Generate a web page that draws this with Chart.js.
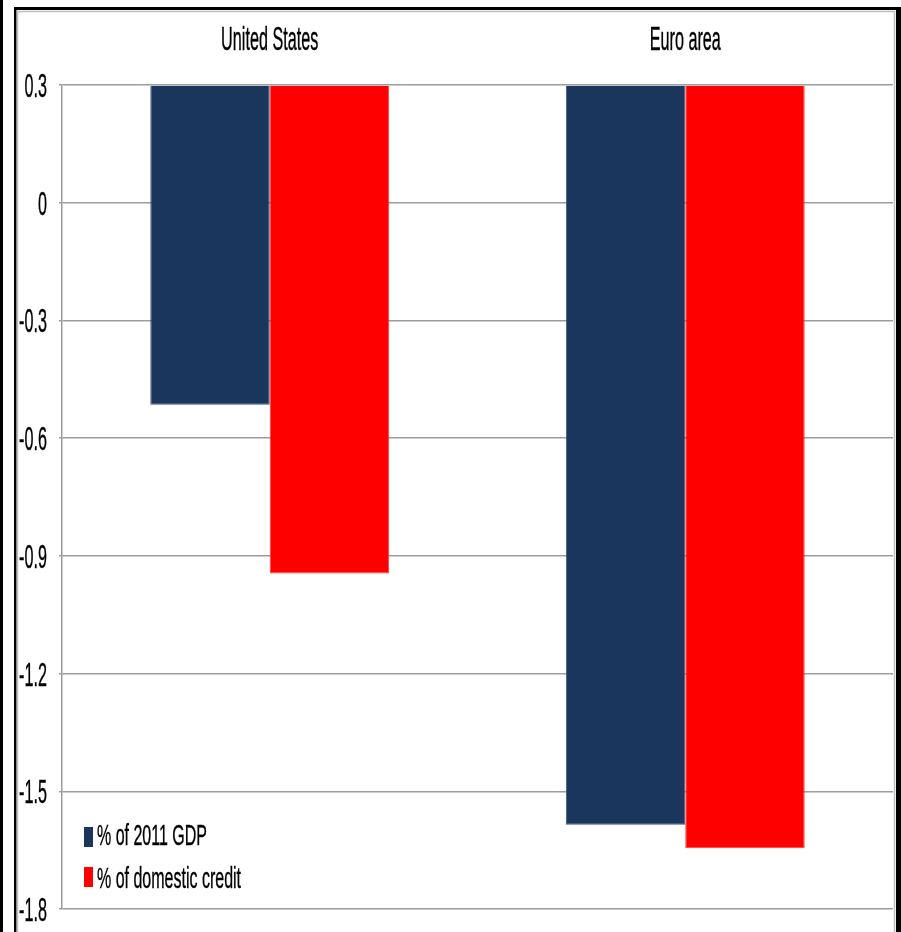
<!DOCTYPE html>
<html>
<head>
<meta charset="utf-8">
<title>Bank deleveraging</title>
<script src="https://cdn.jsdelivr.net/npm/chart.js@4"></script>
<style>
  body { margin: 0; background: #fff; }
  #wrap { width: 901px; height: 932px; }
</style>
</head>
<body>
<div id="wrap"><canvas id="chart"></canvas></div>
<script>
const regions = ["United States", "Euro area"];
const gdpShare = [-0.515, -1.585];
const creditShare = [-0.945, -1.645];
const yTickValues = [0.3, 0, -0.3, -0.6, -0.9, -1.2, -1.5, -1.8];
const yTickLabels = ["0.3", "0", "-0.3", "-0.6", "-0.9", "-1.2", "-1.5", "-1.8"];

const NAVY = "#1b365d";
const RED = "#ff0000";
const GRID = "#9c9c9c";

// text is drawn narrow and tall, like the old slide graphics
function stretchedText(ctx, text, x, y, align, sx, sy) {
    ctx.save();
    ctx.translate(x, y);
    ctx.scale(sx, sy);
    ctx.font = "20px 'Liberation Sans', Arial, sans-serif";
    ctx.fillStyle = "#000";
    ctx.strokeStyle = "#000";
    ctx.lineWidth = 0.25;
    ctx.textAlign = align;
    ctx.textBaseline = "alphabetic";
    ctx.fillText(text, 0, 0);
    ctx.strokeText(text, 0, 0);
    ctx.restore();
}

const framePlugin = {
    id: "frame",
    beforeDraw(chart) {
        const ctx = chart.ctx;
        ctx.save();
        ctx.fillStyle = "#fff";
        ctx.fillRect(0, 0, chart.width, chart.height);
        // outer black border
        ctx.fillStyle = "#000";
        ctx.fillRect(0, 0, 3, chart.height);
        ctx.fillRect(14, 7, 2.5, chart.height);
        ctx.fillRect(14, 7, 887, 3);
        ctx.fillRect(896, 7, 5, chart.height);
        // light grey chart frame
        ctx.strokeStyle = "#bdbdbd";
        ctx.lineWidth = 1.5;
        ctx.beginPath();
        ctx.moveTo(17.5, chart.height);
        ctx.lineTo(17.5, 11.5);
        ctx.lineTo(894.5, 11.5);
        ctx.lineTo(894.5, chart.height);
        ctx.stroke();
        ctx.restore();
    },
    afterDraw(chart) {
        const ctx = chart.ctx;
        const x = chart.scales.x;
        const y = chart.scales.y;

        yTickValues.forEach((v, i) => {
            stretchedText(ctx, yTickLabels[i], 47, y.getPixelForValue(v) + 12, "right", 0.81, 1.65);
        });

        regions.forEach((name, i) => {
            stretchedText(ctx, name, x.getPixelForValue(i), 50, "center", 0.81, 1.65);
        });

        // legend inside the plot, lower left
        const rows = [
            { top: 827, base: 845 },
            { top: 867, base: 888 }
        ];
        chart.data.datasets.forEach((ds, i) => {
            ctx.fillStyle = ds.backgroundColor;
            ctx.fillRect(84, rows[i].top, 9, 20);
            stretchedText(ctx, ds.label, 97, rows[i].base, "left", 0.8, 1.45);
        });
    }
};

new Chart(document.getElementById("chart"), {
    type: "bar",
    data: {
        labels: regions,
        datasets: [
            {
                label: "% of 2011 GDP",
                data: gdpShare,
                base: yTickValues[0],
                backgroundColor: NAVY,
                borderColor: "#3f5270",
                borderWidth: 1
            },
            {
                label: "% of domestic credit",
                data: creditShare,
                base: yTickValues[0],
                backgroundColor: RED,
                borderColor: "#ff3a3a",
                borderWidth: 1
            }
        ]
    },
    options: {
        responsive: true,
        maintainAspectRatio: false,
        animation: false,
        layout: { padding: { left: 0, right: 8, top: 0, bottom: 23 } },
        plugins: {
            legend: { display: false },
            tooltip: { enabled: false }
        },
        datasets: {
            bar: { barPercentage: 1, categoryPercentage: 0.575 }
        },
        scales: {
            x: {
                position: "top",
                grid: { display: false },
                border: { display: false },
                ticks: { display: false },
                afterFit(scale) { scale.height = 85; }
            },
            y: {
                min: -1.8,
                max: 0.3,
                ticks: { display: false, stepSize: 0.3 },
                grid: { color: GRID, lineWidth: 1.5, tickLength: 3 },
                border: { display: true, color: GRID, width: 1.5 },
                afterFit(scale) { scale.width = 62; }
            }
        }
    },
    plugins: [framePlugin]
});
</script>
</body>
</html>
